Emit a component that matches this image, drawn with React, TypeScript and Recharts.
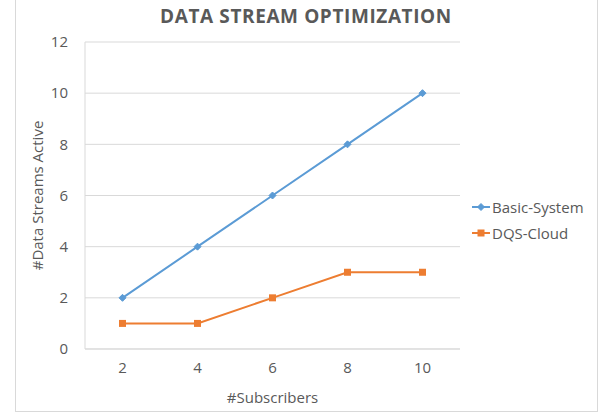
import React from 'react'
import { LineChart, Line, XAxis, YAxis, CartesianGrid } from 'recharts'

const subscribers = [2, 4, 6, 8, 10]
const basicSystem = [2, 4, 6, 8, 10]
const dqsCloud = [1, 1, 2, 3, 3]
const yTicks = [0, 2, 4, 6, 8, 10, 12]

const series = [
  { key: 'basic', name: 'Basic-System', color: '#5b9bd5', marker: 'diamond' },
  { key: 'dqs', name: 'DQS-Cloud', color: '#ed7d31', marker: 'square' },
]

const data = subscribers.map((s, i) => ({
  subscribers: s,
  basic: basicSystem[i],
  dqs: dqsCloud[i],
}))

const FONT = '"Open Sans", "Noto Sans", sans-serif'
const TEXT = '#595959'

// marcadores estilo Excel
const Marker = ({ cx, cy, type, color }: any) => {
  if (cx == null || cy == null) return null
  if (type === 'diamond') {
    return <path d={`M${cx},${cy - 3.5} L${cx + 3.5},${cy} L${cx},${cy + 3.5} L${cx - 3.5},${cy} Z`} fill={color} stroke={color} />
  }
  return <rect x={cx - 3.5} y={cy - 3.5} width={7} height={7} fill={color} />
}

const LegendBox = () => (
  <div style={{ position: 'absolute', left: 471, top: 194, fontFamily: FONT, fontSize: 15, color: TEXT }}>
    {series.map(s => (
      <div key={s.key} style={{ display: 'flex', alignItems: 'center', height: 26 }}>
        <svg width={20} height={10} style={{ marginRight: 1 }}>
          <line x1={1} y1={5} x2={19} y2={5} stroke={s.color} strokeWidth={2} />
          <Marker cx={10} cy={5} type={s.marker} color={s.color} />
        </svg>
        <span>{s.name}</span>
      </div>
    ))}
  </div>
)

export default function App() {
  return (
    <div style={{ position: 'absolute', left: 0, top: 0, width: 610, height: 415, background: '#fff' }}>
      <div style={{ position: 'absolute', left: 15, top: -2, width: 583, height: 414, border: '1px solid #d9d9d9', boxSizing: 'border-box' }} />
      <div style={{ position: 'absolute', left: 0, top: 3, width: 612, textAlign: 'center', fontFamily: FONT, fontWeight: 700, fontSize: 19, letterSpacing: 0.6, color: TEXT }}>
        DATA STREAM OPTIMIZATION
      </div>
      <LineChart width={610} height={415} data={data} margin={{ top: 42, right: 150, bottom: 0, left: 0 }} style={{ position: 'absolute', left: 0, top: 0 }}>
        <CartesianGrid stroke="#d9d9d9" vertical={false} />
        <XAxis
          dataKey="subscribers"
          padding={{ left: 37.5, right: 37.5 }}
          height={66}
          axisLine={{ stroke: '#d9d9d9' }}
          tickLine={false}
          tickSize={0}
          tickMargin={13}
          tick={{ fill: TEXT, fontSize: 15, fontFamily: FONT }}
          label={{ value: '#Subscribers', position: 'insideBottom', offset: 12, fill: TEXT, fontSize: 15, fontFamily: FONT }}
        />
        <YAxis
          width={85}
          domain={[0, 12]}
          ticks={yTicks}
          axisLine={{ stroke: '#d9d9d9' }}
          tickLine={false}
          tickSize={0}
          tickMargin={17}
          tick={{ fill: TEXT, fontSize: 15, fontFamily: FONT }}
          label={{ value: '#Data Streams Active', angle: -90, position: 'center', dx: -5, fill: TEXT, fontSize: 15, fontFamily: FONT }}
        />
        {series.map(s => (
          <Line
            key={s.key}
            dataKey={s.key}
            name={s.name}
            type="linear"
            stroke={s.color}
            strokeWidth={2}
            dot={(p: any) => <Marker key={`${s.key}-${p.index}`} cx={p.cx} cy={p.cy} type={s.marker} color={s.color} />}
            activeDot={false}
            isAnimationActive={false}
          />
        ))}
      </LineChart>
      <LegendBox />
    </div>
  )
}
